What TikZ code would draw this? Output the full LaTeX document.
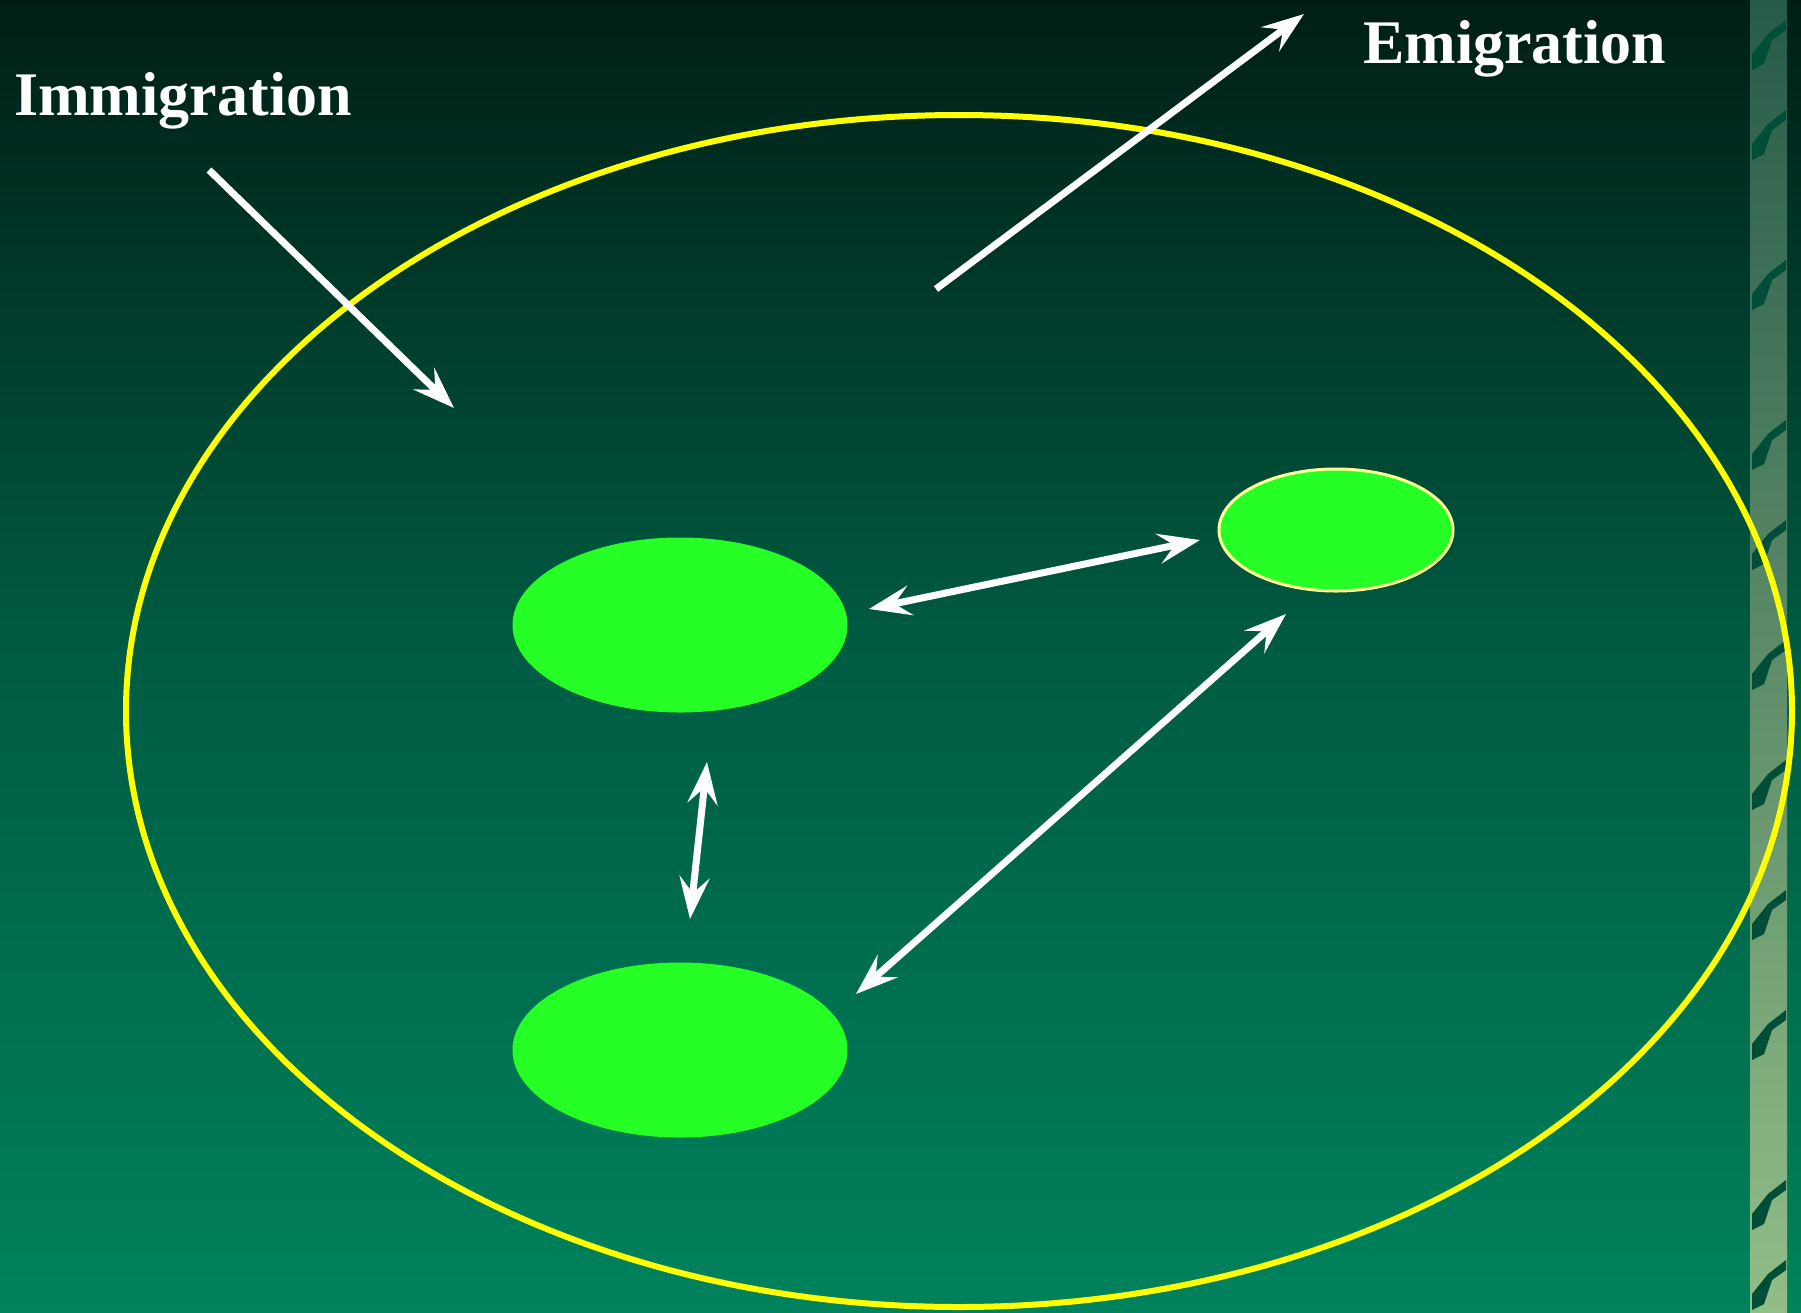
\documentclass[tikz,border=0pt]{standalone}
\usepackage{fontspec}
\setmainfont{Liberation Serif}
\usetikzlibrary{shapes.geometric,arrows.meta}
\definecolor{bgtop}{RGB}{0,30,22}
\definecolor{bgmid}{RGB}{0,92,66}
\definecolor{bgbot}{RGB}{0,130,92}
\definecolor{striptop}{RGB}{40,90,74}
\definecolor{stripbot}{RGB}{145,190,135}
\definecolor{ringyellow}{RGB}{255,255,0}
\definecolor{popgreen}{RGB}{38,255,38}
\definecolor{paleyellow}{RGB}{255,255,150}
\tikzset{
  pop/.style={ellipse, fill=popgreen, minimum width=335pt, minimum height=175pt, inner sep=0pt},
  tip/.tip={Stealth[length=42pt,width=30pt,inset=16pt]},
  flow/.style={draw=white, line width=7pt, -tip},
  twoway/.style={draw=white, line width=7pt, tip-tip},
  lbl/.style={text=white, font=\bfseries\fontsize{62}{70}\selectfont, anchor=base west, inner sep=0pt},
  stripmark/.style={fill=bgmid!85!black, draw=none}
}
\begin{document}
\begin{tikzpicture}[x=1pt,y=-1pt]
\useasboundingbox (0,0) rectangle (1801,1312);
% background
\shade[top color=bgtop, bottom color=bgbot, middle color=bgmid] (0,0) rectangle (1801,1312);
% right decorative strip
\shade[top color=striptop, bottom color=stripbot] (1750,0) rectangle (1787,1312);
\foreach \y in {20,110,260,420,520,640,760,890,1010,1180,1260}{
  \fill[stripmark] (1752,\y+34) -- (1768,\y+14) -- (1786,\y) -- (1786,\y+10) -- (1772,\y+20) -- (1764,\y+44) -- (1752,\y+50) -- cycle;
}
% outer ring
\node[ellipse, draw=ringyellow, line width=6pt, minimum width=1666pt, minimum height=1192pt, inner sep=0pt] (ring) at (959,711) {};
% populations
\node[pop] (p1) at (680,625) {};
\node[pop] (p2) at (680,1050) {};
\node[ellipse, fill=popgreen, draw=paleyellow, line width=3pt, minimum width=234pt, minimum height=122pt, inner sep=0pt] (p3) at (1336,530) {};
% labels
\node[lbl] (imm) at (14,115) {Immigration};
\node[lbl] (emi) at (1363,63) {Emigration};
% arrow endpoints
\coordinate (i0) at (209,170);
\coordinate (i1) at (454,408);
\coordinate (e0) at (936,289);
\coordinate (e1) at (1304,14);
\coordinate (a0) at (869,609);
\coordinate (a1) at (1200,540);
\coordinate (b0) at (1286,614);
\coordinate (b1) at (856,994);
\coordinate (c0) at (707,762);
\coordinate (c1) at (690,919);
% arrows
\draw[flow] (i0) -- (i1);
\draw[flow] (e0) -- (e1);
\draw[twoway] (a0) -- (a1);
\draw[twoway] (b0) -- (b1);
\draw[twoway] (c0) -- (c1);
\end{tikzpicture}
\end{document}
